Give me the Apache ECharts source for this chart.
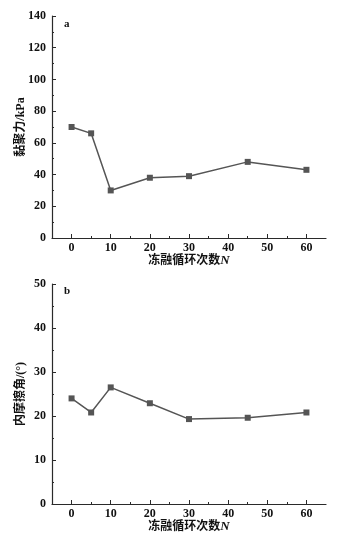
<!DOCTYPE html>
<html>
<head>
<meta charset="utf-8">
<style>
  html, body { margin: 0; padding: 0; background: #fff; }
  #chart { width: 349px; height: 542px; }
</style>
<script src="https://cdn.jsdelivr.net/npm/echarts@6/dist/echarts.min.js"></script>
</head>
<body>
<div id="chart"></div>
<script>
// Freeze-thaw cycle counts and the measured strength parameters
const cycles = [0, 5, 10, 20, 30, 45, 60];
const cohesion = [70, 66, 30, 38, 39, 48, 43];          // kPa
const frictionAngle = [24, 20.8, 26.5, 22.9, 19.3, 19.6, 20.8]; // degrees

const xLabelValues = [0, 10, 20, 30, 40, 50, 60];
const xMinorValues = [5, 15, 25, 35, 45, 55];

const panelLetters = ['a', 'b'];
const yNames = ['黏聚力/kPa', '内摩擦角/(°)'];
const xName = '冻融循环次数';

const serif = '"Liberation Serif", "DejaVu Serif", "Noto Sans CJK SC", serif';
const axisColor = '#2a2a2a';
const lineColor = '#555';

const chart = echarts.init(document.getElementById('chart'), null, { renderer: 'canvas' });

const grids = [
  { left: 52, right: 23, top: 16, height: 222, containLabel: false, outerBoundsMode: 'none' },
  { left: 52, right: 23, top: 284, height: 220, containLabel: false, outerBoundsMode: 'none' }
];

function mainXAxis(gi) {
  return {
    type: 'value', gridIndex: gi, min: -5, max: 65, interval: 5,
    axisLine: { onZero: false, lineStyle: { color: axisColor, width: 1.2 } },
    axisTick: { show: true, inside: true, length: 4, customValues: xLabelValues, lineStyle: { color: axisColor } },
    axisLabel: {
      customValues: xLabelValues, margin: 4,
      fontFamily: serif, fontWeight: 'bold', fontSize: 12, color: '#111'
    },
    splitLine: { show: false },
    name: '{t|' + xName + '}{n|N}', nameLocation: 'middle', nameGap: 16, nameMoveOverlap: false,
    nameTextStyle: {
      rich: {
        t: { fontFamily: serif, fontSize: 12, fontWeight: 'bold', color: '#111' },
        n: { fontFamily: serif, fontSize: 13, fontStyle: 'italic', fontWeight: 'bold', color: '#111' }
      }
    }
  };
}

function minorXAxis(gi) {
  return {
    type: 'value', gridIndex: gi, min: -5, max: 65, interval: 5, position: 'bottom',
    axisLine: { show: false, onZero: false },
    axisTick: { show: true, inside: true, length: 2, customValues: xMinorValues, lineStyle: { color: axisColor } },
    axisLabel: { show: false },
    splitLine: { show: false }
  };
}

function yAxis(gi, max, interval, name) {
  return {
    type: 'value', gridIndex: gi, min: 0, max: max, interval: interval,
    axisLine: { show: true, onZero: false, lineStyle: { color: axisColor, width: 1.2 } },
    axisTick: { show: true, inside: true, length: 4, lineStyle: { color: axisColor } },
    minorTick: { show: true, splitNumber: 2, length: 2, lineStyle: { color: axisColor } },
    axisLabel: { margin: 6, fontFamily: serif, fontWeight: 'bold', fontSize: 12, color: '#111' },
    splitLine: { show: false },
    name: name, nameLocation: 'middle', nameGap: 25, nameRotate: 90, nameMoveOverlap: false,
    nameTextStyle: { fontFamily: serif, fontSize: 12, fontWeight: 'bold', color: '#111' }
  };
}

function lineSeries(xi, yi, values) {
  return {
    type: 'line', xAxisIndex: xi, yAxisIndex: yi,
    data: cycles.map((c, i) => [c, values[i]]),
    symbol: 'rect', symbolSize: 6,
    lineStyle: { color: lineColor, width: 1.5 },
    itemStyle: { color: lineColor },
    animation: false
  };
}

chart.setOption({
  backgroundColor: '#fff',
  animation: false,
  grid: grids,
  title: [
    { text: panelLetters[0], left: 59, top: 14, textStyle: { fontFamily: serif, fontSize: 11, fontWeight: 'bold', color: '#111' } },
    { text: panelLetters[1], left: 59, top: 281, textStyle: { fontFamily: serif, fontSize: 11, fontWeight: 'bold', color: '#111' } }
  ],
  xAxis: [mainXAxis(0), minorXAxis(0), mainXAxis(1), minorXAxis(1)],
  yAxis: [yAxis(0, 140, 20, yNames[0]), yAxis(1, 50, 10, yNames[1])],
  series: [lineSeries(0, 0, cohesion), lineSeries(2, 1, frictionAngle)]
});
</script>
</body>
</html>
